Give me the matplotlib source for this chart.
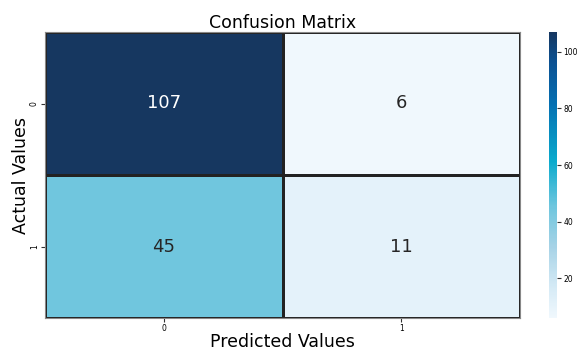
import numpy as np
import matplotlib
matplotlib.use("Agg")
import matplotlib.pyplot as plt
import seaborn as sns
from matplotlib.colors import LinearSegmentedColormap

labels = ["0", "1"]
cm = np.array([[107, 6], [45, 11]])

cmap = LinearSegmentedColormap.from_list("custom", [
    (0.00, (240/255, 248/255, 253/255)),
    (0.10, (215/255, 235/255, 246/255)),
    (0.25, (165/255, 210/255, 230/255)),
    (0.39, (110/255, 198/255, 222/255)),
    (0.55, (10/255, 170/255, 205/255)),
    (0.75, (5/255, 112/255, 178/255)),
    (0.90, (12/255, 80/255, 145/255)),
    (1.00, (22/255, 55/255, 96/255)),
])

fig = plt.figure(figsize=(5.87, 3.51), dpi=100)
ax = fig.add_axes([45/587, 1 - 318/351, 475/587, 286/351])
cax = fig.add_axes([549/587, 1 - 318/351, 8/587, 286/351])
sns.heatmap(cm, annot=True, fmt="d", cmap=cmap, linewidths=0.8, linecolor="#222222",
            xticklabels=labels, yticklabels=labels, ax=ax, cbar_ax=cax,
            annot_kws={"size": 13})
for s in ax.spines.values():
    s.set_visible(True)
    s.set_color("#888888")
    s.set_linewidth(0.8)
ax.set_title("Confusion Matrix", fontsize=12.5, pad=3)
ax.set_xlabel("Predicted Values", fontsize=12.5, labelpad=0)
ax.set_ylabel("Actual Values", fontsize=12.5, labelpad=0)
ax.tick_params(labelsize=5.5, length=3, pad=1.5, color="#333333")
plt.setp(ax.get_yticklabels(), rotation=90, va="center")
cax.tick_params(labelsize=5.5, length=3, pad=1.5, color="#333333")
cax.yaxis.set_ticks([20, 40, 60, 80, 100])
fig.savefig("out.png", dpi=100)
